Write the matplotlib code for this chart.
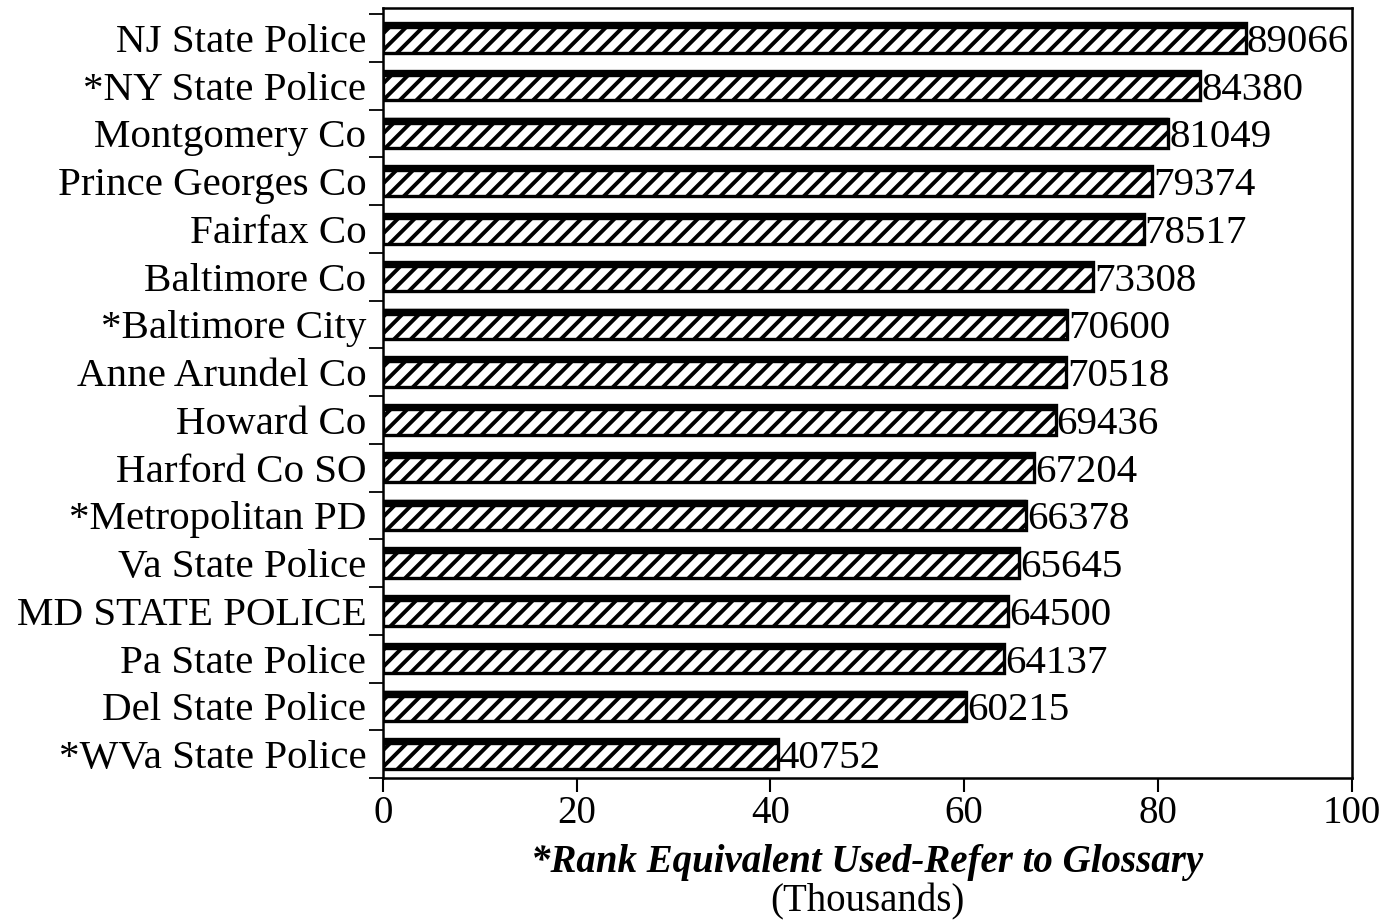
import numpy as np
import matplotlib.pyplot as plt

plt.rcParams['font.family'] = ['Liberation Serif', 'DejaVu Serif']
plt.rcParams['hatch.linewidth'] = 2.8

agencies = ["NJ State Police", "*NY State Police", "Montgomery Co", "Prince Georges Co",
            "Fairfax Co", "Baltimore Co", "*Baltimore City", "Anne Arundel Co",
            "Howard Co", "Harford Co SO", "*Metropolitan PD", "Va State Police",
            "MD STATE POLICE", "Pa State Police", "Del State Police", "*WVa State Police"]
salaries = [89066, 84380, 81049, 79374, 78517, 73308, 70600, 70518,
            69436, 67204, 66378, 65645, 64500, 64137, 60215, 40752]

vals = np.array(salaries) / 1000.0
ypos = np.arange(len(agencies))

fig = plt.figure(figsize=(13.84, 9.24), dpi=100)
ax = fig.add_axes([0.2767, 0.158, 0.700, 0.833])

ax.barh(ypos, vals, height=0.62, color='white', edgecolor='black',
        hatch='//', linewidth=2.4, zorder=2)
# dark top face of each bar
ax.barh(ypos - 0.26, vals, height=0.11, color='black', edgecolor='black',
        linewidth=1, zorder=3)

for y, v, s in zip(ypos, vals, salaries):
    ax.text(v + 0.1, y, str(s), va='center_baseline', ha='left', fontsize=29.5, zorder=4)

ax.set_xlim(0, 100)
ax.set_ylim(len(agencies) - 0.6, -0.62)
ax.set_xticks([0, 20, 40, 60, 80, 100])
ax.tick_params(axis='x', direction='out', length=10, width=1.5, labelsize=28, pad=2)

ax.set_yticks(ypos)
ax.set_yticklabels(agencies)
ax.set_yticks(np.arange(len(agencies) + 1) - 0.5, minor=True)
ax.tick_params(axis='y', which='major', length=0, labelsize=29.5, pad=12)
ax.tick_params(axis='y', which='minor', direction='out', length=10, width=1.3)

for sp in ax.spines.values():
    sp.set_linewidth(1.8)

ax.set_xlabel("*Rank Equivalent Used-Refer to Glossary", fontsize=28,
              fontweight='bold', fontstyle='italic', labelpad=9)
ax.text(0.5, -0.137, "(Thousands)", transform=ax.transAxes, ha='center',
        va='top', fontsize=28)

fig.savefig("out.png", dpi=100)
